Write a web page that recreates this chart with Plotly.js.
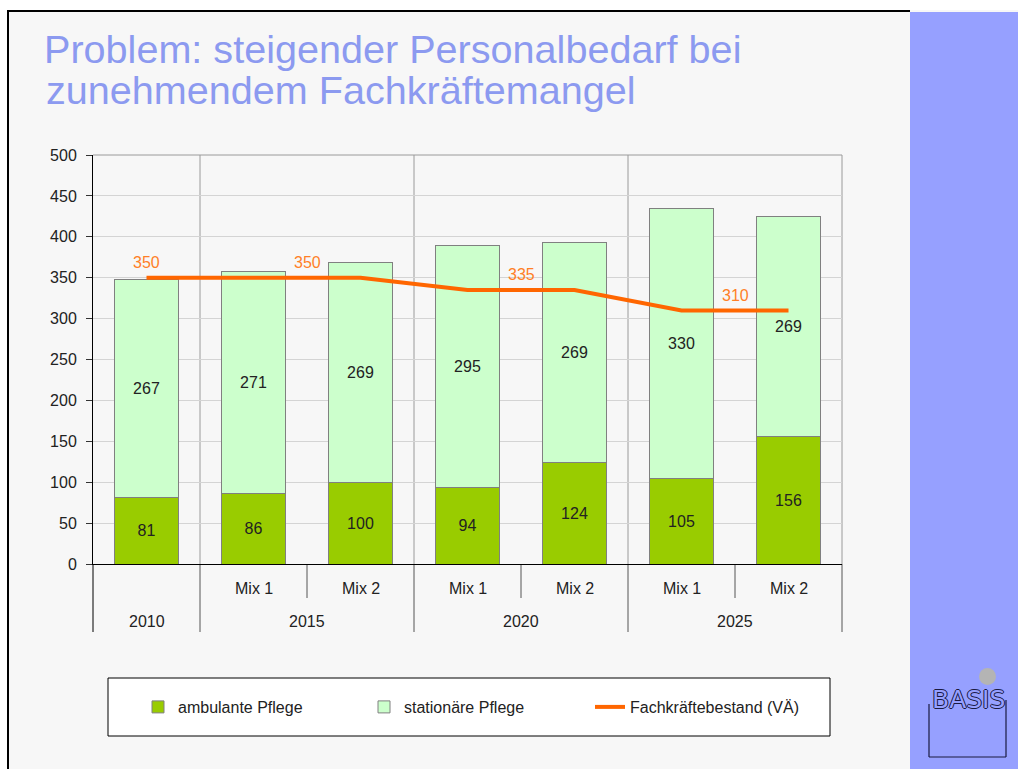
<!DOCTYPE html>
<html>
<head>
<meta charset="utf-8">
<script src="https://cdn.plot.ly/plotly-3.0.1.min.js"></script>
<style>html,body{margin:0;padding:0;background:#fff;}#chart{width:1018px;height:769px;}</style>
</head>
<body>
<div id="chart"></div>
<script>
// ---- data ----
const years = ["2010", "2015", "2015", "2020", "2020", "2025", "2025"];
const mixes = ["", "Mix 1", "Mix 2", "Mix 1", "Mix 2", "Mix 1", "Mix 2"];
const ambulante = [81, 86, 100, 94, 124, 105, 156];
const stationaere = [267, 271, 269, 295, 269, 330, 269];
const groupYears = ["2010", "2015", "2020", "2025"];
const fachkraefte = [350, 350, 335, 310];
const titleLine1 = "Problem: steigender Personalbedarf bei";
const titleLine2 = "zunehmendem Fachkräftemangel";
const seriesNames = ["ambulante Pflege", "stationäre Pflege", "Fachkräftebestand (VÄ)"];

// ---- geometry helpers ----
const W = 1018, H = 769;
const L = 93, R = 842, T = 155, B = 564;
const px = x => (x - L) / (R - L);
const py = y => (B - y) / (B - T);
const FONT = "Liberation Sans, Arial, Helvetica, sans-serif";
const TXT = "#222222";
const TITLE_SIZE = 39.6;

const idx = years.map((_, i) => i);
const fkByYear = {};
groupYears.forEach((y, i) => fkByYear[y] = fachkraefte[i]);
const linePts = years.map(y => fkByYear[y]);
const groupCenter = g => {
  const ii = idx.filter(i => years[i] === g);
  return ii.reduce((a, b) => a + b, 0) / ii.length;
};

const traces = [
  {type: "bar", name: seriesNames[0], x: idx, y: ambulante, width: 0.6,
   marker: {color: "#99cc00", line: {color: "#808080", width: 1}},
   texttemplate: "%{y}", textposition: "inside", insidetextanchor: "middle",
   textangle: 0, constraintext: "none",
   textfont: {family: FONT, size: 16, color: TXT}, hoverinfo: "skip"},
  {type: "bar", name: seriesNames[1], x: idx, y: stationaere, width: 0.6,
   marker: {color: "#ccffcc", line: {color: "#808080", width: 1}},
   texttemplate: "%{y}", textposition: "inside", insidetextanchor: "middle",
   textangle: 0, constraintext: "none",
   textfont: {family: FONT, size: 16, color: TXT}, hoverinfo: "skip"},
  {type: "scatter", mode: "lines", name: seriesNames[2], x: idx, y: linePts,
   line: {color: "#ff6600", width: 4}, hoverinfo: "skip"}
];

const shapes = [];
const annotations = [];
// slide frame
shapes.push({type: "rect", xref: "paper", yref: "paper", x0: px(0), x1: px(W), y0: py(0), y1: py(10), fillcolor: "#ffffff", line: {width: 0}, layer: "below"});
shapes.push({type: "rect", xref: "paper", yref: "paper", x0: px(0), x1: px(7), y0: py(0), y1: py(H), fillcolor: "#ffffff", line: {width: 0}, layer: "below"});
shapes.push({type: "rect", xref: "paper", yref: "paper", x0: px(910), x1: px(W + 2), y0: py(12), y1: py(H + 2), fillcolor: "#96a0ff", line: {width: 0}, layer: "below"});
shapes.push({type: "line", xref: "paper", yref: "paper", x0: px(7), x1: px(910), y0: py(11), y1: py(11), line: {color: "#000", width: 2}, layer: "below"});
shapes.push({type: "line", xref: "paper", yref: "paper", x0: px(8), x1: px(8), y0: py(10), y1: py(H + 2), line: {color: "#000", width: 2}, layer: "below"});
// logo
shapes.push({type: "circle", xref: "paper", yref: "paper", x0: px(979), x1: px(996), y0: py(668), y1: py(685), fillcolor: "#b4b4b4", line: {width: 0}, layer: "below"});
[[929, 704, 929, 757], [929, 757, 1006, 757], [1006, 757, 1006, 700]].forEach(s => {
  shapes.push({type: "line", xref: "paper", yref: "paper", x0: px(s[0]), y0: py(s[1]), x1: px(s[2]), y1: py(s[3]), line: {color: "#1a1a40", width: 1.2}, layer: "below"});
});
annotations.push({xref: "paper", yref: "paper", x: px(968), y: py(699), text: "BASIS", showarrow: false,
  xanchor: "center", yanchor: "middle",
  font: {family: "DejaVu Sans, sans-serif", size: 25, color: "#96a0ff", weight: 400,
         shadow: "1px 0 0 #1a1a40, -1px 0 0 #1a1a40, 0 1px 0 #1a1a40, 0 -1px 0 #1a1a40"}});

// legend box
shapes.push({type: "rect", xref: "paper", yref: "paper", x0: px(108), x1: px(830), y0: py(678), y1: py(736), fillcolor: "#ffffff", line: {color: "#000", width: 1}, layer: "below"});

// plot frame: top and right edges, and extensions into the label area
shapes.push({type: "line", xref: "paper", yref: "paper", x0: 0, x1: 1, y0: 1, y1: 1, line: {color: "#9a9a9a", width: 1}, layer: "below"});
shapes.push({type: "line", xref: "paper", yref: "paper", x0: 1, x1: 1, y0: 0, y1: 1, line: {color: "#9a9a9a", width: 1}, layer: "below"});
shapes.push({type: "line", xref: "paper", yref: "paper", x0: 1, x1: 1, y0: py(632), y1: 0, line: {color: "#555", width: 1}, layer: "below"});
shapes.push({type: "line", xref: "paper", yref: "paper", x0: 0, x1: 0, y0: py(632), y1: 0, line: {color: "#000", width: 1}, layer: "below"});

// group dividers and sub dividers derived from the categories
for (let i = 1; i < years.length; i++) {
  const xb = i - 0.5;
  if (years[i] !== years[i - 1]) {
    shapes.push({type: "line", xref: "x", yref: "paper", x0: xb, x1: xb, y0: 0, y1: 1, line: {color: "#9a9a9a", width: 1}, layer: "below"});
    shapes.push({type: "line", xref: "x", yref: "paper", x0: xb, x1: xb, y0: py(632), y1: 0, line: {color: "#555", width: 1}, layer: "below"});
  } else {
    shapes.push({type: "line", xref: "x", yref: "paper", x0: xb, x1: xb, y0: py(598), y1: 0, line: {color: "#555", width: 1}, layer: "below"});
  }
}
// category labels
idx.forEach(i => {
  if (mixes[i]) annotations.push({xref: "x", yref: "paper", x: i, y: py(588), text: mixes[i], showarrow: false,
    xanchor: "center", yanchor: "middle", font: {family: FONT, size: 16, color: TXT}});
});
groupYears.forEach(g => {
  annotations.push({xref: "x", yref: "paper", x: groupCenter(g), y: py(621), text: g, showarrow: false,
    xanchor: "center", yanchor: "middle", font: {family: FONT, size: 16, color: TXT}});
});
// line value labels
groupYears.forEach((g, k) => {
  annotations.push({xref: "x", yref: "y", x: groupCenter(g), y: fachkraefte[k], text: String(fachkraefte[k]),
    showarrow: false, xanchor: "center", yanchor: "middle", yshift: 15,
    font: {family: FONT, size: 16, color: "#ff7f27"}});
});
// title line 2
annotations.push({xref: "paper", yref: "paper", x: px(44), y: py(114), text: titleLine2, showarrow: false,
  xanchor: "left", yanchor: "bottom", font: {family: FONT, size: TITLE_SIZE, color: "#8c9af0"}});

const layout = {
  width: W, height: H,
  margin: {l: L, r: W - R, t: T, b: H - B, pad: 0},
  paper_bgcolor: "#f7f7f7", plot_bgcolor: "rgba(0,0,0,0)",
  font: {family: FONT, size: 16, color: TXT},
  title: {text: titleLine1, xref: "container", yref: "container", x: 44 / W, xanchor: "left",
          y: 1 - 63 / H, yanchor: "bottom", font: {family: FONT, size: TITLE_SIZE, color: "#8c9af0"}},
  barmode: "stack", bargap: 0.4,
  showlegend: true,
  legend: {orientation: "h", x: px(138), xanchor: "left", y: py(707), yanchor: "middle",
           bgcolor: "rgba(0,0,0,0)", borderwidth: 0, traceorder: "normal",
           font: {family: FONT, size: 16, color: TXT}, entrywidth: 181, entrywidthmode: "pixels"},
  xaxis: {range: [-0.5, 6.5], showticklabels: false, ticks: "", showgrid: false, zeroline: false,
          showline: true, linecolor: "#000", linewidth: 1, fixedrange: true},
  yaxis: {range: [0, 500], dtick: 50, tick0: 0, showgrid: true, gridcolor: "#d4d4d4", gridwidth: 1,
          zeroline: false, showline: true, linecolor: "#000", linewidth: 1,
          ticks: "outside", ticklen: 6, tickcolor: "#333", ticklabelstandoff: 6,
          tickfont: {family: FONT, size: 16, color: TXT}, fixedrange: true},
  shapes: shapes, annotations: annotations
};
Plotly.newPlot("chart", traces, layout, {displayModeBar: false, staticPlot: true});
</script>
</body>
</html>
